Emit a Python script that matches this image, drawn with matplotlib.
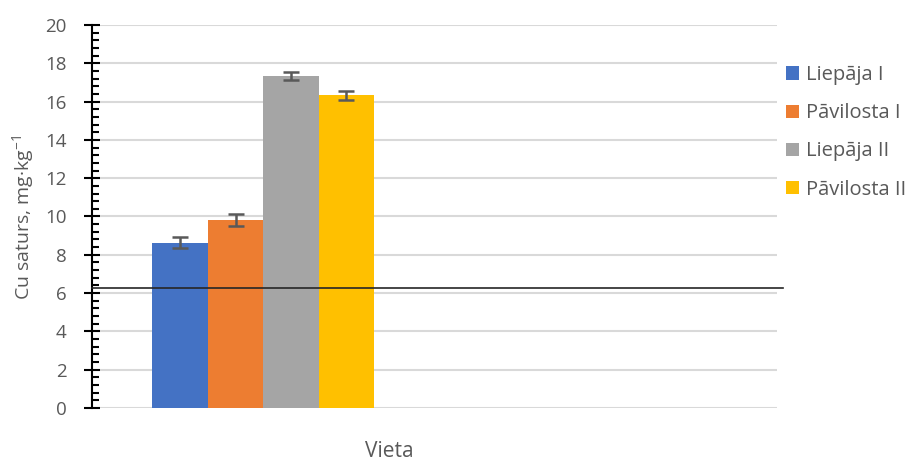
import matplotlib.pyplot as plt
from matplotlib.ticker import MultipleLocator
import numpy as np

plt.rcParams['font.family'] = ['Open Sans', 'DejaVu Sans']

# data
series = ['Liepāja I', 'Pāvilosta I', 'Liepāja II', 'Pāvilosta II']
values = [8.63, 9.82, 17.34, 16.33]
errors = [0.28, 0.3, 0.2, 0.23]
colors = ['#4472C4', '#ED7D31', '#A5A5A5', '#FFC000']
limit_value = 6.25
n_categories = 2  # second category is empty

fig = plt.figure(figsize=(9.12, 4.61), dpi=100)
ax = fig.add_axes([0.1009, 0.115, 0.7511, 0.8308])

bar_w = 0.162
offsets = (np.arange(len(series)) - 1.5) * bar_w
for i in range(len(series)):
    ax.bar(offsets[i], values[i], width=bar_w, color=colors[i], label=series[i], zorder=2)
    ax.errorbar(offsets[i], values[i], yerr=errors[i], fmt='none', ecolor='#595959',
                elinewidth=1.8, capsize=5.5, capthick=1.8, zorder=3)

# horizontal reference line
ax.plot([0, 1.008], [limit_value, limit_value], transform=ax.get_yaxis_transform(),
        color='#262626', lw=1.2, clip_on=False, zorder=4)

ax.set_xlim(-0.5, n_categories - 0.5)
ax.set_ylim(0, 20)
ax.yaxis.set_major_locator(MultipleLocator(2))
ax.yaxis.set_minor_locator(MultipleLocator(0.4))
ax.grid(axis='y', color='#D9D9D9', lw=1.5, zorder=0)
ax.set_axisbelow(True)

for s in ['top', 'right', 'bottom']:
    ax.spines[s].set_visible(False)
ax.spines['left'].set_linewidth(1.5)
ax.spines['left'].set_color('black')
ax.set_xticks([])
ax.tick_params(axis='y', which='major', direction='inout', length=11, width=1.5,
               labelsize=13.5, labelcolor='#595959', pad=13)
ax.tick_params(axis='y', which='minor', direction='in', length=5, width=1.5)

fig.text(24 / 912, 1 - 217 / 461, r'Cu saturs, mg·kg$^{\mathregular{-1}}$', fontsize=14,
         color='#595959', rotation=90, ha='center', va='center')
fig.text(389 / 912, 1 - 451 / 461, 'Vieta', fontsize=15, color='#595959',
         ha='center', va='center')

ax.legend(loc='upper left', bbox_to_anchor=(1.013, 0.895), frameon=False,
          borderpad=0, borderaxespad=0,
          fontsize=14.5, labelcolor='#595959', handlelength=0.65, handleheight=0.65,
          handletextpad=0.35, labelspacing=0.9)

plt.savefig('out.png', dpi=100)
